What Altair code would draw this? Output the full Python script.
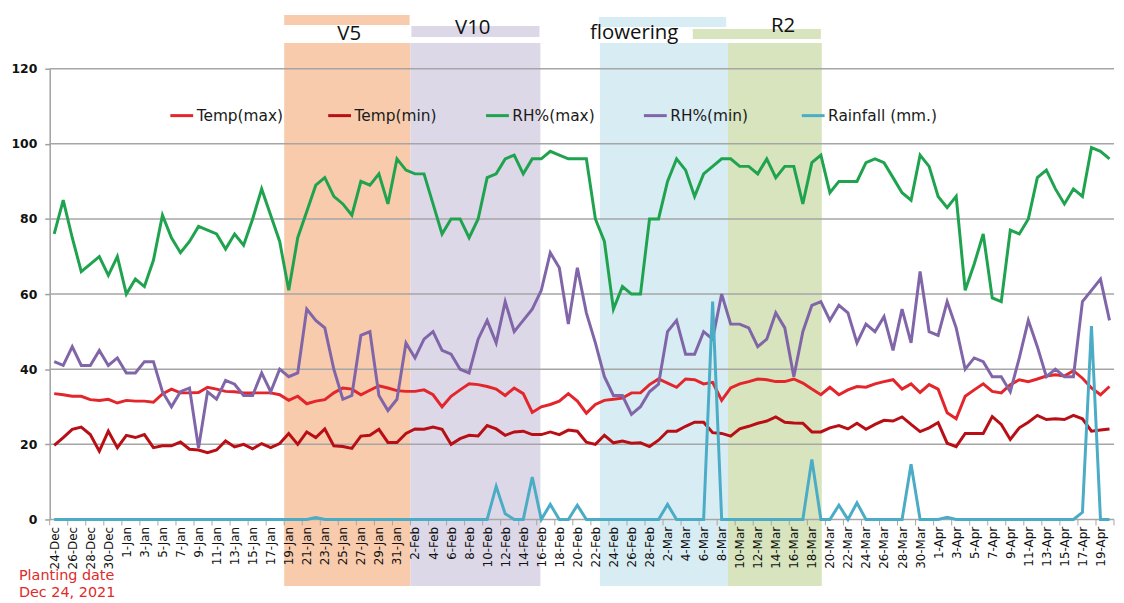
import json
import altair as alt
import pandas as pd

# ---------------- data ----------------
DATES = [d.strftime("%-d-%b") for d in pd.date_range("2021-12-24", periods=118)]

TEMP_MAX = [33.5, 33.2, 32.8, 32.8, 31.9, 31.7, 32.0, 31.0, 31.7, 31.5, 31.5, 31.2, 33.4, 34.7, 33.7, 33.7, 33.8, 35.2, 34.7, 34.1, 34.0,
            33.7, 33.7, 33.7, 33.7, 33.2, 31.7, 32.8, 30.8, 31.5, 31.9, 33.7, 35.0, 34.7, 33.2, 34.4, 35.6, 35.0, 34.3, 34.1, 34.1, 34.5,
            33.2, 30.0, 32.8, 34.5, 36.1, 35.9, 35.4, 34.7, 33.0, 35.0, 33.5, 28.5, 30.0, 30.6, 31.5, 33.5, 31.5, 28.3, 30.6, 31.7, 32.0,
            32.3, 33.7, 33.7, 35.9, 37.4, 36.3, 35.2, 37.4, 37.2, 36.1, 36.5, 31.7, 35.0, 36.1, 36.7, 37.4, 37.2, 36.7, 36.7, 37.4, 36.3,
            34.7, 33.2, 35.2, 33.2, 34.5, 35.4, 35.2, 36.1, 36.7, 37.2, 34.7, 36.1, 33.8, 35.9, 34.7, 28.4, 26.8, 32.8, 34.5, 36.1,
            34.1, 33.7, 35.9, 37.2, 36.7, 37.4, 38.2, 38.5, 38.2, 39.6, 37.6, 35.0, 33.2, 35.4]

TEMP_MIN = [19.7, 21.8, 24.0, 24.6, 22.6, 18.2, 23.5, 19.1, 22.4, 21.8, 22.6, 19.1, 19.6, 19.6, 20.6, 18.7, 18.5, 17.8, 18.5, 20.9, 19.3,
            20.0, 18.8, 20.2, 19.1, 20.2, 22.9, 20.0, 23.3, 21.8, 24.1, 19.6, 19.4, 18.9, 22.2, 22.4, 24.0, 20.5, 20.5, 22.9, 24.1, 24.0,
            24.6, 24.0, 20.0, 21.5, 22.4, 22.2, 25.0, 24.1, 22.4, 23.3, 23.5, 22.6, 22.6, 23.3, 22.6, 23.8, 23.5, 20.6, 20.0, 22.4, 20.4,
            20.9, 20.3, 20.4, 19.4, 21.1, 23.5, 23.5, 24.8, 25.9, 25.9, 23.1, 22.9, 22.2, 24.1, 24.8, 25.6, 26.2, 27.3, 25.9, 25.7, 25.6,
            23.3, 23.3, 24.4, 25.0, 24.1, 25.6, 24.0, 25.3, 26.4, 26.2, 27.3, 25.3, 23.4, 24.4, 25.8, 20.3, 19.4, 22.9, 22.9, 22.9,
            27.4, 25.3, 21.3, 24.4, 25.9, 27.7, 26.6, 26.8, 26.6, 27.7, 26.8, 23.5, 23.8, 24.1]

RH_MAX = [76, 85, 75, 66, 68, 70, 65, 70, 60, 64, 62, 69, 81, 75, 71, 74, 78, 77, 76, 72, 76,
          73, 80, 88, 81, 74, 61, 75, 82, 89, 91, 86, 84, 81, 90, 89, 92, 84, 96, 93, 92, 92,
          84, 76, 80, 80, 75, 80, 91, 92, 96, 97, 92, 96, 96, 98, 97, 96, 96, 96, 80, 74,
          56, 62, 60, 60, 80, 80, 90, 96, 93, 86, 92, 94, 96, 96, 94, 94, 92, 96, 91, 94, 94, 84,
          95, 97, 87, 90, 90, 90, 95, 96, 95, 91, 87, 85, 97, 94, 86, 83, 86, 61, 68, 76,
          59, 58, 77, 76, 80, 91, 93, 88, 84, 88, 86, 99, 98, 96]

RH_MIN = [42, 41, 46, 41, 41, 45, 41, 43, 39, 39, 42, 42, 34, 30, 34, 35, 19, 34, 32, 37, 36,
          33, 33, 39, 34, 40, 38, 39, 56, 53, 51, 40, 32, 33, 49, 50, 33, 29, 32, 47, 43, 48,
          50, 45, 44, 40, 39, 48, 53, 47, 58, 50, 53, 56, 61, 71, 67, 52, 67, 55, 47, 38,
          33, 33, 28, 30, 34, 36, 50, 53, 44, 44, 50, 48, 60, 52, 52, 51, 46, 48, 55, 51, 38, 50,
          57, 58, 53, 57, 55, 47, 52, 50, 54, 45, 56, 47, 66, 50, 49, 58, 51, 40, 43, 42,
          38, 38, 34, 43, 53, 46, 38, 40, 38, 38, 58, 61, 64, 53]

RAINFALL = [0, 0, 0, 0, 0, 0, 0, 0, 0, 0, 0, 0, 0, 0, 0, 0, 0, 0, 0, 0, 0,
            0, 0, 0, 0, 0, 0, 0, 0, 0.5, 0, 0, 0, 0, 0, 0, 0, 0, 0, 0, 0, 0,
            0, 0, 0, 0, 0, 0, 0, 8.8, 1.5, 0, 0, 11.3, 0, 4.0, 0, 0, 3.8, 0, 0, 0,
            0, 0, 0, 0, 0, 0, 4.0, 0, 0, 0, 0, 58, 0, 0, 0, 0, 0, 0, 0, 0, 0, 0,
            16, 0, 0, 3.8, 0, 4.4, 0, 0, 0, 0, 0, 14.7, 0, 0, 0, 0.6, 0, 0, 0, 0,
            0, 0, 0, 0, 0, 0, 0, 0, 0, 0, 1.9, 51.5, 0, 0]

SERIES = ["Temp(max)", "Temp(min)", "RH%(max)", "RH%(min)", "Rainfall (mm.)"]
SERIES_COLORS = ["#E3262B", "#B80F16", "#1FA34F", "#8066A8", "#4BACC6"]

# growth stages (in day-index units, category edges at +/-0.5)
STAGES = ["V5", "V10", "flowering", "R2"]
STAGE_START = [25.5, 39.5, 60.5, 74.7]
STAGE_END = [39.5, 53.9, 74.7, 85.1]
STRIP_START = [25.5, 39.6, 60.4, 70.8]
STRIP_END = [39.4, 53.8, 74.5, 85.0]
LABEL_X = [32.7, 46.4, 64.3, 80.8]
STAGE_FILLS = ["#F8CBAD", "#DDD8E8", "#D8ECF3", "#D7E4BD"]

Y_TICKS = [0, 20, 40, 60, 80, 100, 120]
X_LABEL_POS = list(range(0, 118, 2))
X_TICK_POS = [k - 0.5 for k in range(0, 119, 2)]

ANNOTATION = ["Planting date", "Dec 24, 2021"]

# ---------------- layout (pixels, relative to plot area) ----------------
PLOT_W, PLOT_H = 1072, 454
STRIP_TOP = [-54, -43, -52, -40]
STRIP_BOTTOM = [-44, -32, -42, -30]
LABEL_BASE = [-29, -34.5, -30, -37]
BAND_TOP, BAND_BOTTOM = -26, 521
ANNOT_Y = [515, 532]

# ---------------- tables ----------------
rows = []
for name, vals in zip(SERIES, [TEMP_MAX, TEMP_MIN, RH_MAX, RH_MIN, RAINFALL]):
    for i, v in enumerate(vals):
        rows.append({"day": i, "date": DATES[i], "series": name, "value": v})
lines_df = pd.DataFrame(rows)

stages_df = pd.DataFrame({
    "stage": STAGES, "start": STAGE_START, "end": STAGE_END,
    "s_start": STRIP_START, "s_end": STRIP_END, "lx": LABEL_X,
    "s_top": STRIP_TOP, "s_bottom": STRIP_BOTTOM, "l_y": LABEL_BASE,
    "b_top": [BAND_TOP] * 4, "b_bottom": [BAND_BOTTOM] * 4,
})

grid_df = pd.DataFrame({"v": Y_TICKS})
ticks_df = pd.DataFrame({"t": X_TICK_POS})
annot_df = pd.DataFrame({"text": ANNOTATION, "y": ANNOT_Y})

x_scale = alt.Scale(domain=[-0.5, 117.5], nice=False, zero=False)
y_scale = alt.Scale(domain=[0, 120], nice=False, zero=True)
fill_scale = alt.Scale(domain=STAGES, range=STAGE_FILLS)

label_expr = json.dumps(DATES) + "[datum.value]"

x_axis = alt.Axis(values=X_LABEL_POS, labelExpr=label_expr, labelAngle=270,
                  labelFont="DejaVu Sans", labelFontSize=12, labelColor="#111111",
                  labelPadding=7, ticks=False, domain=False, grid=False,
                  labelFlush=False, labelOverlap=False, title=None, zindex=1)
y_axis = alt.Axis(values=Y_TICKS, grid=False, domainColor="#A0A0A0", domainWidth=1.5,
                  tickColor="#A0A0A0", tickWidth=1.5, tickSize=5,
                  labelFont="DejaVu Sans", labelFontWeight="bold", labelFontSize=12.5,
                  labelColor="#111111", labelPadding=8, title=None)

bands = alt.Chart(stages_df).mark_rect().encode(
    x=alt.X("start:Q", scale=x_scale, axis=x_axis),
    x2="end:Q",
    y=alt.Y("b_top:Q", scale=None),
    y2="b_bottom:Q",
    fill=alt.Fill("stage:N", scale=fill_scale, legend=None),
)

strips = alt.Chart(stages_df).mark_rect().encode(
    x=alt.X("s_start:Q", scale=x_scale, axis=x_axis),
    x2="s_end:Q",
    y=alt.Y("s_top:Q", scale=None),
    y2="s_bottom:Q",
    fill=alt.Fill("stage:N", scale=fill_scale, legend=None),
)

stage_text = alt.Chart(stages_df).mark_text(
    font="Open Sans", fontSize=20.5, color="#111111", align="center", baseline="alphabetic"
).encode(
    x=alt.X("lx:Q", scale=x_scale, axis=x_axis),
    y=alt.Y("l_y:Q", scale=None),
    text="stage:N",
)

grid = alt.Chart(grid_df).mark_rule(color="#A6A6A6", strokeWidth=1.5).encode(
    y=alt.Y("v:Q", scale=y_scale, axis=y_axis),
)

xticks = alt.Chart(ticks_df).mark_rule(color="#A6A6A6", strokeWidth=1).encode(
    x=alt.X("t:Q", scale=x_scale, axis=x_axis),
    y=alt.value(PLOT_H),
    y2=alt.value(PLOT_H + 6),
)

lines = alt.Chart(lines_df).mark_line(strokeWidth=3).encode(
    x=alt.X("day:Q", scale=x_scale, axis=x_axis),
    y=alt.Y("value:Q", scale=y_scale, axis=y_axis),
    color=alt.Color("series:N", scale=alt.Scale(domain=SERIES, range=SERIES_COLORS),
                    sort=SERIES,
                    legend=alt.Legend(orient="none", legendX=120, legendY=34,
                                      direction="horizontal", columns=5, gridAlign="all",
                                      columnPadding=16, symbolType="stroke", symbolSize=529,
                                      symbolStrokeWidth=3, labelFont="DejaVu Sans",
                                      labelFontSize=15.5, labelColor="#1a1a1a",
                                      labelOffset=2, labelLimit=300, padding=0, title=None)),
    order=alt.Order("day:Q"),
)

annot = alt.Chart(annot_df).mark_text(
    font="DejaVu Sans", fontSize=14.5, color="#E02A2A", align="left", baseline="alphabetic"
).encode(
    x=alt.value(-31),
    y=alt.Y("y:Q", scale=None),
    text="text:N",
)

chart = alt.layer(bands, strips, stage_text, grid, xticks, lines, annot).properties(
    width=PLOT_W, height=PLOT_H,
    padding={"left": 42, "top": 59, "right": 2, "bottom": 82},
    autosize=alt.AutoSizeParams(type="none"),
    background="white",
).configure_view(strokeWidth=0)

chart.save("out.html", embed_options={"renderer": "svg", "actions": False})
